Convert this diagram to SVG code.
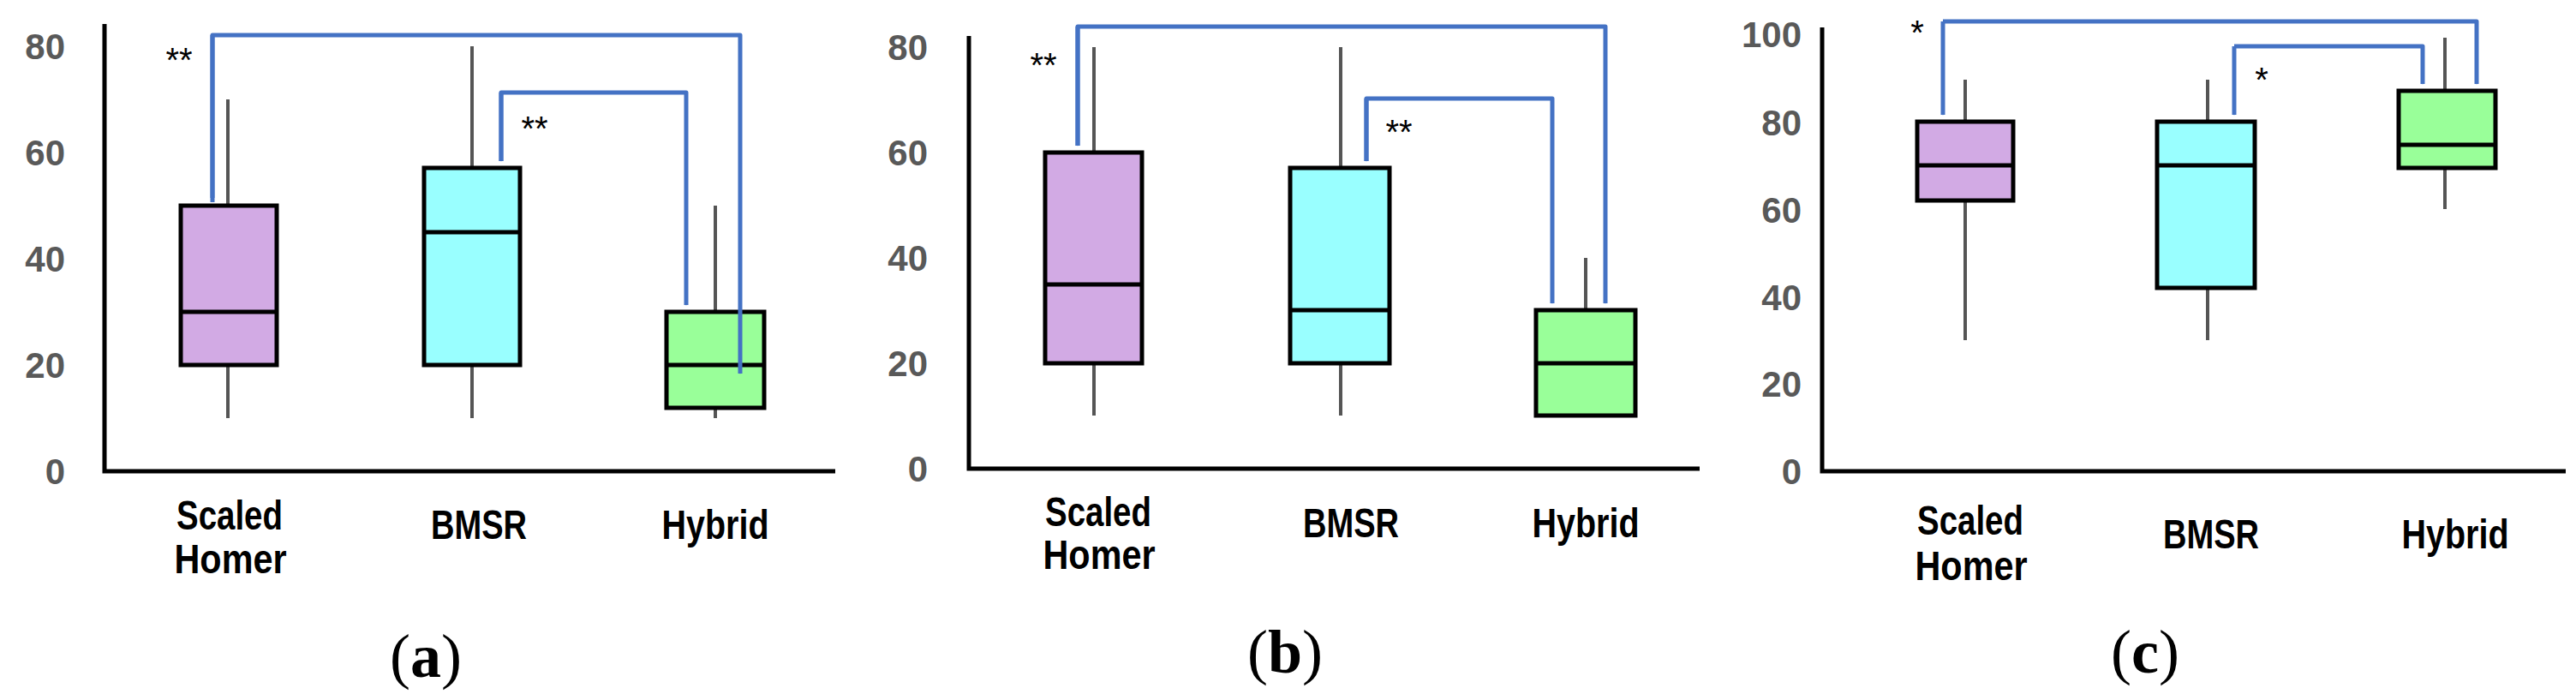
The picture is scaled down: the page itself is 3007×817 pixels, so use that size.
<svg xmlns="http://www.w3.org/2000/svg" width="3007" height="817" viewBox="0 0 3007 817">
<style>
.ax{stroke:#000;stroke-width:5;fill:none}
.tk{font-family:"Liberation Sans",Arial,sans-serif;font-weight:bold;font-size:42px;fill:#595959;text-anchor:end}
.cat{font-family:"Liberation Sans Narrow","Liberation Sans",Arial,sans-serif;font-weight:bold;font-size:48px;fill:#000;text-anchor:middle}
.wh{stroke:#555;stroke-width:4}
.bx{stroke:#000;stroke-width:5}
.md{stroke:#000;stroke-width:5}
.p{fill:#D2AAE4}.c{fill:#99FFFF}.g{fill:#99FF99}
.ar{stroke:#4472C4;stroke-width:5;fill:none;stroke-linejoin:round;marker-end:url(#ah)}
.st{font-family:"Liberation Sans",Arial,sans-serif;font-size:40px;fill:#000;text-anchor:middle}
.cap{font-family:"Liberation Serif","Times New Roman",serif;font-size:72px;fill:#000;text-anchor:middle}
</style>
<defs>
<marker id="ah" markerUnits="userSpaceOnUse" orient="auto" viewBox="-1 -14 32 28" width="32" height="28" refX="22" refY="0">
<path d="M0,-13 L30,0 L0,13 L9,0 Z" fill="#4472C4"/>
</marker>
</defs>
<rect width="3007" height="817" fill="#fff"/>

<g id="panel-a">
<path class="ax" d="M122,28 V550 H975"/>
<text class="tk" x="76" y="69">80</text><text class="tk" x="76" y="193">60</text><text class="tk" x="76" y="317">40</text><text class="tk" x="76" y="441">20</text><text class="tk" x="76" y="565">0</text>
<g id="a-scaled"><line class="wh" x1="266" y1="116" x2="266" y2="488"/><rect class="bx p" x="211" y="240" width="112" height="186"/><line class="md" x1="211" y1="364" x2="323" y2="364"/></g>
<g id="a-bmsr"><line class="wh" x1="551" y1="54" x2="551" y2="488"/><rect class="bx c" x="495" y="196" width="112" height="230"/><line class="md" x1="495" y1="271" x2="607" y2="271"/></g>
<g id="a-hybrid"><line class="wh" x1="835" y1="240" x2="835" y2="488"/><rect class="bx g" x="778" y="364" width="114" height="112"/><line class="md" x1="778" y1="426" x2="892" y2="426"/></g>
<text class="cat" x="268" y="618" textLength="124" lengthAdjust="spacingAndGlyphs">Scaled</text>
<text class="cat" x="269" y="669" textLength="131" lengthAdjust="spacingAndGlyphs">Homer</text>
<text class="cat" x="559" y="629" textLength="112" lengthAdjust="spacingAndGlyphs">BMSR</text>
<text class="cat" x="835" y="629" textLength="125" lengthAdjust="spacingAndGlyphs">Hybrid</text>
<text class="st" x="209" y="84">**</text><text class="st" x="624" y="164">**</text>
<text class="cap" x="497" y="790">(<tspan font-weight="bold">a</tspan>)</text>
</g>

<g id="panel-b">
<path class="ax" d="M1131,42 V547 H1984"/>
<text class="tk" x="1083" y="70">80</text><text class="tk" x="1083" y="193">60</text><text class="tk" x="1083" y="316">40</text><text class="tk" x="1083" y="439">20</text><text class="tk" x="1083" y="562">0</text>
<g id="b-scaled"><line class="wh" x1="1277" y1="55" x2="1277" y2="485"/><rect class="bx p" x="1220" y="178" width="113" height="246"/><line class="md" x1="1220" y1="332" x2="1333" y2="332"/></g>
<g id="b-bmsr"><line class="wh" x1="1565" y1="55" x2="1565" y2="485"/><rect class="bx c" x="1506" y="196" width="116" height="228"/><line class="md" x1="1506" y1="362" x2="1622" y2="362"/></g>
<g id="b-hybrid"><line class="wh" x1="1851" y1="301" x2="1851" y2="485"/><rect class="bx g" x="1793" y="362" width="116" height="123"/><line class="md" x1="1793" y1="424" x2="1909" y2="424"/></g>
<text class="cat" x="1282" y="614" textLength="124" lengthAdjust="spacingAndGlyphs">Scaled</text>
<text class="cat" x="1283" y="664" textLength="131" lengthAdjust="spacingAndGlyphs">Homer</text>
<text class="cat" x="1577" y="627" textLength="112" lengthAdjust="spacingAndGlyphs">BMSR</text>
<text class="cat" x="1851" y="627" textLength="125" lengthAdjust="spacingAndGlyphs">Hybrid</text>
<text class="st" x="1218" y="90">**</text><text class="st" x="1633" y="168">**</text>
<text class="cap" x="1500" y="785">(<tspan font-weight="bold">b</tspan>)</text>
</g>

<g id="panel-c">
<path class="ax" d="M2127,32 V550 H2995"/>
<text class="tk" x="2103" y="55">100</text><text class="tk" x="2103" y="158">80</text><text class="tk" x="2103" y="260">60</text><text class="tk" x="2103" y="362">40</text><text class="tk" x="2103" y="463">20</text><text class="tk" x="2103" y="565">0</text>
<g id="c-scaled"><line class="wh" x1="2294" y1="93" x2="2294" y2="397"/><rect class="bx p" x="2238" y="142" width="112" height="92"/><line class="md" x1="2238" y1="193" x2="2350" y2="193"/></g>
<g id="c-bmsr"><line class="wh" x1="2577" y1="93" x2="2577" y2="397"/><rect class="bx c" x="2518" y="142" width="114" height="194"/><line class="md" x1="2518" y1="193" x2="2632" y2="193"/></g>
<g id="c-hybrid"><line class="wh" x1="2854" y1="44" x2="2854" y2="244"/><rect class="bx g" x="2800" y="106" width="113" height="90"/><line class="md" x1="2800" y1="169" x2="2913" y2="169"/></g>
<text class="cat" x="2300" y="624" textLength="124" lengthAdjust="spacingAndGlyphs">Scaled</text>
<text class="cat" x="2301" y="677" textLength="131" lengthAdjust="spacingAndGlyphs">Homer</text>
<text class="cat" x="2581" y="640" textLength="112" lengthAdjust="spacingAndGlyphs">BMSR</text>
<text class="cat" x="2866" y="640" textLength="125" lengthAdjust="spacingAndGlyphs">Hybrid</text>
<text class="st" x="2238" y="52">*</text><text class="st" x="2640" y="107">*</text>
<text class="cap" x="2504" y="785">(<tspan font-weight="bold">c</tspan>)</text>
</g>

<g id="connectors">
<path class="ar" d="M248,236 V41 H864 V436"/>
<path class="ar" d="M248,41 V231"/>
<path class="ar" d="M585,188 V108 H801 V356"/>
<path class="ar" d="M585,108 V188"/>
<path class="ar" d="M1258,170 V31 H1874 V354"/>
<path class="ar" d="M1258,31 V170"/>
<path class="ar" d="M1595,188 V115 H1812 V354"/>
<path class="ar" d="M1595,115 V188"/>
<path class="ar" d="M2268,25 H2891 V98"/>
<path class="ar" d="M2268,25 V134"/>
<path class="ar" d="M2608,54 H2828 V98"/>
<path class="ar" d="M2608,54 V134"/>
</g>
</svg>
